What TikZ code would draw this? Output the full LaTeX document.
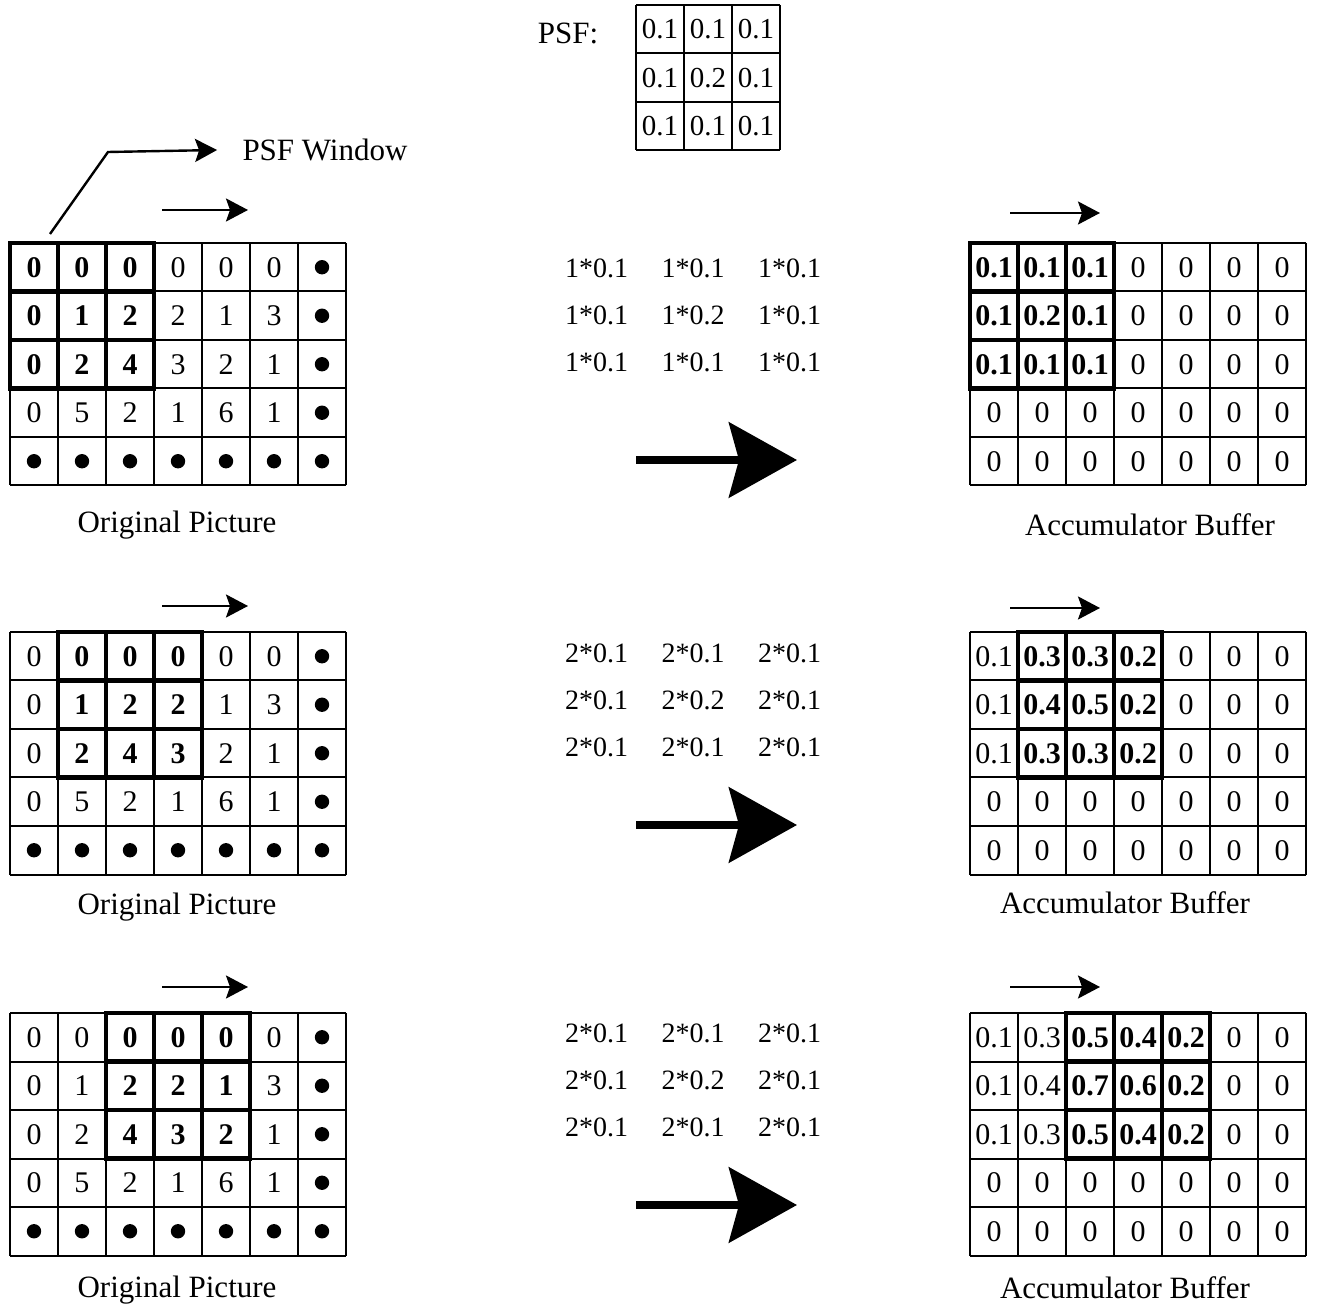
\documentclass[tikz,border=0pt]{standalone}
\usepackage{fontspec}
\setmainfont{Liberation Serif}
\usetikzlibrary{positioning, calc, arrows.meta}

\newcommand{\dotmark}{\tikz\fill (0,0) circle (3.6pt);}

% 7x5 table: name, left, top, first window column, rows
\newcommand{\cellgrid}[5]{%
  \foreach \row [count=\r] in {#5} {
    \foreach \v [count=\c] in \row {
      \node[cell] (#1-\r-\c) at ({#2+(\c-0.5)*48}, {#3+(\r-0.5)*48.5}) {\v};
    }
  }
  \foreach \c in {0,...,7} \draw[gridline] ({#2+\c*48},#3) -- ({#2+\c*48},{#3+5*48.5});
  \foreach \r in {0,...,5} \draw[gridline] (#2,{#3+\r*48.5}) -- ({#2+7*48},{#3+\r*48.5});
  % window
  \foreach \c in {0,...,3} \draw[winline] ({#2+(#4+\c)*48},#3) -- ++(0,{3*48.5});
  \foreach \r in {0,...,3} \draw[winline] ({#2+#4*48},{#3+\r*48.5}) -- ++(144,0);
}

\tikzset{
  cell/.style={inner sep=0pt, font=\fontsize{15}{18}\selectfont},
  prod/.style={inner sep=0pt, font=\fontsize{14}{17}\selectfont},
  caption/.style={inner sep=0pt, font=\fontsize{15.5}{18}\selectfont},
  gridline/.style={line width=1pt},
  winline/.style={line width=2.4pt, line cap=rect},
  move/.style={line width=1.2pt, -{Stealth[length=11pt, width=11.5pt, inset=2pt]}},
  big/.style={line width=4pt, -{Stealth[length=34pt, width=37.5pt, inset=5pt]}}
}

\begin{document}
\begin{tikzpicture}[x=0.5pt, y=-0.5pt]
    \useasboundingbox (0,0) rectangle (1319,1310);

    % PSF
    \node[caption] (psflabel) at (568,33) {PSF:};
    \foreach \row [count=\r] in {{0.1,0.1,0.1},{0.1,0.2,0.1},{0.1,0.1,0.1}} {
      \foreach \v [count=\c] in \row {
        \node[prod, font=\fontsize{14.5}{17}\selectfont] (psf-\r-\c) at ({636+(\c-0.5)*48}, {5+(\r-0.5)*48.5}) {\v};
      }
    }
    \foreach \c in {0,...,3} \draw[gridline] ({636+\c*48},5) -- ({636+\c*48},150.5);
    \foreach \r in {0,...,3} \draw[gridline] (636,{5+\r*48.5}) -- (780,{5+\r*48.5});

    % Step 1
    \cellgrid{orig1}{10}{243}{0}{
      {\textbf{0},\textbf{0},\textbf{0},0,0,0,\dotmark},
      {\textbf{0},\textbf{1},\textbf{2},2,1,3,\dotmark},
      {\textbf{0},\textbf{2},\textbf{4},3,2,1,\dotmark},
      {0,5,2,1,6,1,\dotmark},
      {\dotmark,\dotmark,\dotmark,\dotmark,\dotmark,\dotmark,\dotmark}}
    \cellgrid{acc1}{970}{243}{0}{
      {\textbf{0.1},\textbf{0.1},\textbf{0.1},0,0,0,0},
      {\textbf{0.1},\textbf{0.2},\textbf{0.1},0,0,0,0},
      {\textbf{0.1},\textbf{0.1},\textbf{0.1},0,0,0,0},
      {0,0,0,0,0,0,0},
      {0,0,0,0,0,0,0}}
    \node[caption] (cap-o1) at (177,525) {Original Picture};
    \node[caption] (cap-a1) at (1150,525) {Accumulator Buffer};

    % PSF window pointer
    \node[caption] (win) at (325,150) {PSF Window};
    \coordinate (winfoot) at (50,234);
    \draw[move] (winfoot) -- (108,152) -- ($(win.west)+(-25,0)$);

    % Steps 2 and 3
    \cellgrid{orig2}{10}{632}{1}{
      {0,\textbf{0},\textbf{0},\textbf{0},0,0,\dotmark},
      {0,\textbf{1},\textbf{2},\textbf{2},1,3,\dotmark},
      {0,\textbf{2},\textbf{4},\textbf{3},2,1,\dotmark},
      {0,5,2,1,6,1,\dotmark},
      {\dotmark,\dotmark,\dotmark,\dotmark,\dotmark,\dotmark,\dotmark}}
    \cellgrid{acc2}{970}{632}{1}{
      {0.1,\textbf{0.3},\textbf{0.3},\textbf{0.2},0,0,0},
      {0.1,\textbf{0.4},\textbf{0.5},\textbf{0.2},0,0,0},
      {0.1,\textbf{0.3},\textbf{0.3},\textbf{0.2},0,0,0},
      {0,0,0,0,0,0,0},
      {0,0,0,0,0,0,0}}
    \node[caption] (cap-o2) at (177,907) {Original Picture};
    \node[caption] (cap-a2) at (1125,903) {Accumulator Buffer};

    \cellgrid{orig3}{10}{1013}{2}{
      {0,0,\textbf{0},\textbf{0},\textbf{0},0,\dotmark},
      {0,1,\textbf{2},\textbf{2},\textbf{1},3,\dotmark},
      {0,2,\textbf{4},\textbf{3},\textbf{2},1,\dotmark},
      {0,5,2,1,6,1,\dotmark},
      {\dotmark,\dotmark,\dotmark,\dotmark,\dotmark,\dotmark,\dotmark}}
    \cellgrid{acc3}{970}{1013}{2}{
      {0.1,0.3,\textbf{0.5},\textbf{0.4},\textbf{0.2},0,0},
      {0.1,0.4,\textbf{0.7},\textbf{0.6},\textbf{0.2},0,0},
      {0.1,0.3,\textbf{0.5},\textbf{0.4},\textbf{0.2},0,0},
      {0,0,0,0,0,0,0},
      {0,0,0,0,0,0,0}}
    \node[caption] (cap-o3) at (177,1290) {Original Picture};
    \node[caption] (cap-a3) at (1125,1288) {Accumulator Buffer};

    % Products
    \foreach \top/\k [count=\s] in {268/1, 653/2, 1033/2} {
      \foreach \row [count=\r] in {{0.1,0.1,0.1},{0.1,0.2,0.1},{0.1,0.1,0.1}} {
        \foreach \v [count=\c] in \row {
          \node[prod] (prod-\s-\r-\c) at ({500+\c*96.5}, {\top+(\r-1)*47}) {\k*\v};
        }
      }
    }

    % Sliding arrows
    \foreach \y [count=\s] in {210, 606, 987} {
      \coordinate (lgo-\s) at (162,\y);
      \coordinate (lend-\s) at (248,\y);
      \draw[move] (lgo-\s) -- (lend-\s);
    }
    \foreach \y [count=\s] in {213, 608, 987} {
      \coordinate (rgo-\s) at (1010,\y);
      \coordinate (rend-\s) at (1100,\y);
      \draw[move] (rgo-\s) -- (rend-\s);
    }

    % Big arrows
    \foreach \y [count=\s] in {460, 825, 1205} {
      \coordinate (bgo-\s) at (636,\y);
      \coordinate (bend-\s) at (797,\y);
      \draw[big] (bgo-\s) -- (bend-\s);
    }
\end{tikzpicture}
\end{document}
